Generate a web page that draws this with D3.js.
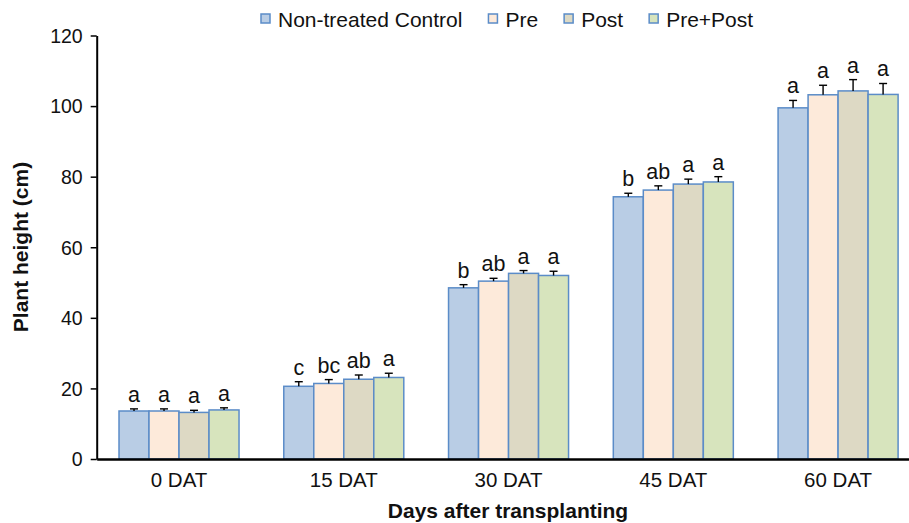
<!DOCTYPE html>
<html>
<head>
<meta charset="utf-8">
<script src="https://cdn.jsdelivr.net/npm/d3@7"></script>
<style>
  body { margin: 0; background: #fff; }
  svg { display: block; font-family: "Liberation Sans", Arial, sans-serif; }
</style>
</head>
<body>
<svg id="chart" width="909" height="523"></svg>
<script>
var categories = ['0 DAT', '15 DAT', '30 DAT', '45 DAT', '60 DAT'];
var seriesNames = ['Non-treated Control', 'Pre', 'Post', 'Pre+Post'];
var seriesColors = ['#b9cde5', '#fdeada', '#ddd9c4', '#d7e4bd'];

var controlValues = [13.6, 20.6, 48.5, 74.3, 99.5];
var preValues = [13.6, 21.4, 50.4, 76.2, 103.2];
var postValues = [13.2, 22.6, 52.6, 77.9, 104.3];
var prePostValues = [13.9, 23.1, 52.0, 78.5, 103.3];

var controlErr = [0.6, 1.3, 0.9, 1.0, 2.1];
var preErr = [0.6, 1.1, 0.8, 1.2, 2.7];
var postErr = [0.6, 1.2, 0.8, 1.4, 3.2];
var prePostErr = [0.6, 1.2, 1.2, 1.5, 3.1];

var controlLetters = ['a', 'c', 'b', 'b', 'a'];
var preLetters = ['a', 'bc', 'ab', 'ab', 'a'];
var postLetters = ['a', 'ab', 'a', 'a', 'a'];
var prePostLetters = ['a', 'a', 'a', 'a', 'a'];

var yTicks = [0, 20, 40, 60, 80, 100, 120];

var values = [controlValues, preValues, postValues, prePostValues];
var errors = [controlErr, preErr, postErr, prePostErr];
var letters = [controlLetters, preLetters, postLetters, prePostLetters];

var rows = [];
categories.forEach(function (c, i) {
  seriesNames.forEach(function (s, j) {
    rows.push({
      cat: c,
      series: s,
      color: seriesColors[j],
      value: values[j][i],
      err: errors[j][i],
      letter: letters[j][i]
    });
  });
});

var svg = d3.select('svg#chart');

var x = d3.scaleBand()
  .domain(categories)
  .range([96.7, 920.4])
  .paddingInner(0.2716)
  .paddingOuter(0.1354);

var x1 = d3.scaleBand()
  .domain(seriesNames)
  .range([0, x.bandwidth()]);

var y = d3.scaleLinear()
  .domain([0, 120])
  .range([459, 35.5]);

// bars
svg.append('g')
  .selectAll('rect')
  .data(rows)
  .enter()
  .append('rect')
    .attr('x', function (d) { return x(d.cat) + x1(d.series); })
    .attr('y', function (d) { return y(d.value); })
    .attr('width', x1.bandwidth())
    .attr('height', function (d) { return y(0) - y(d.value); })
    .style('fill', function (d) { return d.color; })
    .style('stroke', '#5b8cc8')
    .style('stroke-width', 1.5);

// error bars
var errG = svg.append('g')
  .style('stroke', '#000')
  .style('stroke-width', 1.4);

rows.forEach(function (d) {
  var cx = x(d.cat) + x1(d.series) + x1.bandwidth() / 2;
  errG.append('line')
    .attr('x1', cx).attr('x2', cx)
    .attr('y1', y(d.value)).attr('y2', y(d.value + d.err));
  errG.append('line')
    .attr('x1', cx - 4).attr('x2', cx + 4)
    .attr('y1', y(d.value + d.err)).attr('y2', y(d.value + d.err));
});

// significance letters
svg.append('g')
  .selectAll('text')
  .data(rows)
  .enter()
  .append('text')
    .attr('x', function (d) { return x(d.cat) + x1(d.series) + x1.bandwidth() / 2; })
    .attr('y', function (d) { return y(d.value + d.err) - 7; })
    .attr('text-anchor', 'middle')
    .style('font-size', '21.5px')
    .style('fill', '#111')
    .text(function (d) { return d.letter; });

// y axis
var yAxis = svg.append('g')
  .attr('transform', 'translate(96.7,0)')
  .call(d3.axisLeft(y).tickValues(yTicks).tickSize(6).tickSizeOuter(0).tickPadding(8));
yAxis.select('.domain').style('stroke', '#000').style('stroke-width', 2);
yAxis.selectAll('.tick line').style('stroke', '#000').style('stroke-width', 1.5);
yAxis.selectAll('.tick text')
  .style('font-size', '19.5px')
  .style('fill', '#111')
  .attr('dy', '0.35em');

// x axis
var xAxis = svg.append('g')
  .attr('transform', 'translate(0,459)')
  .call(d3.axisBottom(x).tickSize(0).tickSizeOuter(0).tickPadding(28));
xAxis.select('.domain').style('stroke', '#000').style('stroke-width', 2.5);
xAxis.selectAll('.tick text')
  .style('font-size', '20.5px')
  .style('fill', '#111')
  .attr('dy', 0);

// axis titles
svg.append('text')
  .attr('x', 508)
  .attr('y', 518)
  .attr('text-anchor', 'middle')
  .style('font-size', '21px')
  .style('font-weight', 'bold')
  .style('fill', '#111')
  .text('Days after transplanting');

svg.append('text')
  .attr('transform', 'translate(28,247) rotate(-90)')
  .attr('text-anchor', 'middle')
  .style('font-size', '21px')
  .style('font-weight', 'bold')
  .style('fill', '#111')
  .text('Plant height (cm)');

// legend
var legend = svg.append('g');
var lx = 261;
seriesNames.forEach(function (s, j) {
  legend.append('rect')
    .attr('x', lx)
    .attr('y', 14)
    .attr('width', 9)
    .attr('height', 9)
    .style('fill', seriesColors[j])
    .style('stroke', '#5b8cc8')
    .style('stroke-width', 1.5);
  var t = legend.append('text')
    .attr('x', lx + 17)
    .attr('y', 27)
    .style('font-size', '21px')
    .style('fill', '#111')
    .text(s);
  lx = lx + 17 + t.node().getComputedTextLength() + 26;
});
</script>
</body>
</html>
